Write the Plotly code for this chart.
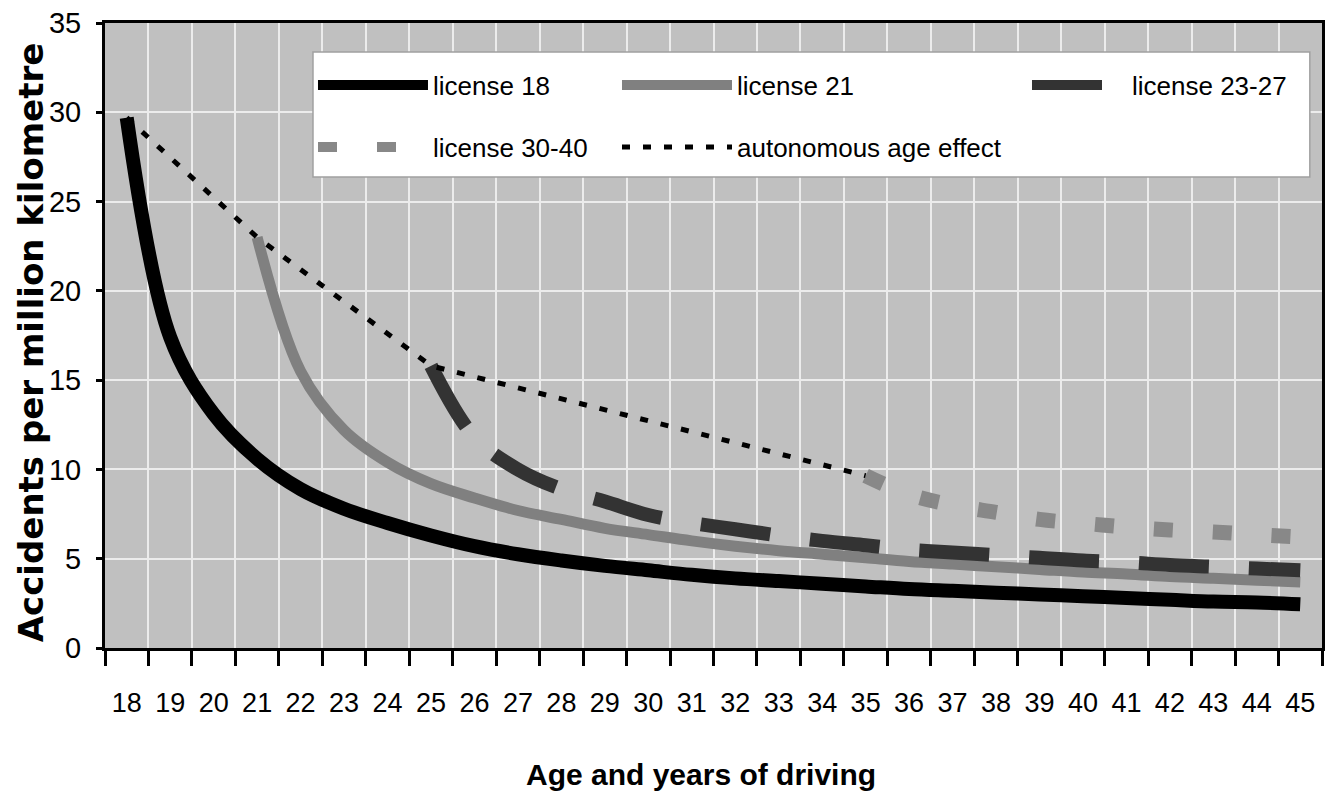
import plotly.graph_objects as go

# ---------------- data ----------------
ages = ["18", "19", "20", "21", "22", "23", "24", "25", "26", "27", "28", "29", "30", "31",
        "32", "33", "34", "35", "36", "37", "38", "39", "40", "41", "42", "43", "44", "45"]

license_18 = [29.7, 17.4, 13.1, 10.6, 8.9, 7.8, 7.0, 6.3, 5.7, 5.25, 4.9, 4.6, 4.35, 4.1,
              3.9, 3.75, 3.6, 3.45, 3.3, 3.2, 3.1, 3.0, 2.9, 2.8, 2.7, 2.6, 2.55, 2.45]

license_21_ages = ages[3:]
license_21 = [23.0, 15.5, 12.2, 10.4, 9.2, 8.4, 7.7, 7.2, 6.7, 6.35, 6.0, 5.7, 5.45, 5.25,
              5.05, 4.85, 4.7, 4.55, 4.4, 4.25, 4.15, 4.0, 3.9, 3.8, 3.7]

license_23_27_ages = ages[7:]
license_23_27 = [15.8, 11.8, 10.0, 8.9, 8.2, 7.45, 7.0, 6.65, 6.3, 6.0, 5.75, 5.5, 5.35,
                 5.2, 5.05, 4.9, 4.8, 4.65, 4.55, 4.45, 4.35]

license_30_40_ages = ages[17:]
license_30_40 = [9.65, 8.6, 8.0, 7.6, 7.2, 6.98, 6.78, 6.61, 6.5, 6.35, 6.22]

autonomous_ages = ["18", "21", "25", "35"]
autonomous = [29.7, 23.0, 15.8, 9.65]

y_ticks = [0, 5, 10, 15, 20, 25, 30, 35]

# ---------------- styling ----------------
SANS = "Liberation Sans, Arial, sans-serif"
GRID = "#ececec"

fig = go.Figure()
fig.add_trace(go.Scatter(x=ages, y=license_18, mode="lines", name="license 18",
                         line=dict(color="black", width=14, shape="spline"),
                         legend="legend"))
fig.add_trace(go.Scatter(x=license_21_ages, y=license_21, mode="lines", name="license 21",
                         line=dict(color="#808080", width=11, shape="spline"),
                         legend="legend2"))
fig.add_trace(go.Scatter(x=license_23_27_ages, y=license_23_27, mode="lines", name="license 23-27",
                         line=dict(color="#333333", width=14, shape="spline", dash="70px,40px"),
                         legend="legend3"))
fig.add_trace(go.Scatter(x=license_30_40_ages, y=license_30_40, mode="lines", name="license 30-40",
                         line=dict(color="#888888", width=15, shape="spline", dash="19px,40px"),
                         legend="legend4"))
fig.add_trace(go.Scatter(x=autonomous_ages, y=autonomous, mode="lines", name="autonomous age effect",
                         line=dict(color="black", width=5, dash="8px,13px"),
                         legend="legend5"))

leg_font = dict(family=SANS, size=26, color="black")


def leg(x, y, w):
    return dict(x=x, y=y, xanchor="left", yanchor="middle", bgcolor="rgba(0,0,0,0)",
                borderwidth=0, font=leg_font, itemwidth=w, xref="paper", yref="paper")


fig.update_layout(
    width=1326, height=791,
    margin=dict(l=97, r=12, t=15, b=151, autoexpand=False),
    paper_bgcolor="white",
    plot_bgcolor="#c0c0c0",
    showlegend=True,
    legend=leg(0.1709, 0.9008, 110),
    legend2=leg(0.4207, 0.9008, 110),
    legend3=leg(0.7576, 0.9008, 95),
    legend4=leg(0.1709, 0.8016, 110),
    legend5=leg(0.4207, 0.8016, 110),
    xaxis=dict(type="category", categoryorder="array", categoryarray=ages,
               range=[-0.5, len(ages) - 0.5],
               tickson="boundaries", ticks="outside", ticklen=15, tickwidth=2.5,
               tickcolor="black", showline=True, linecolor="black", linewidth=3,
               mirror=True, showgrid=True, gridcolor=GRID, gridwidth=2,
               tickfont=dict(family=SANS, size=27, color="black"), tickangle=0,
               ticklabelstandoff=29, zeroline=False, automargin=False,
               ticklabeloverflow="allow"),
    yaxis=dict(range=[0, 35], tickvals=y_ticks, ticktext=[str(v) for v in y_ticks],
               ticks="outside", ticklen=6, tickwidth=2.5, tickcolor="black",
               showline=True, linecolor="black", linewidth=3, mirror=True,
               showgrid=True, gridcolor=GRID, gridwidth=2, zeroline=False,
               tickfont=dict(family=SANS, size=29, color="black"),
               ticklabelstandoff=9, automargin=False, ticklabeloverflow="allow"),
    shapes=[dict(type="rect", xref="paper", yref="paper", x0=0.1709, x1=0.990,
                 y0=0.7536, y1=0.9536, fillcolor="white",
                 line=dict(color="#a0a0a0", width=1.5), layer="above")],
    annotations=[
        dict(text="<b>Accidents per million kilometre</b>", textangle=-90,
             xref="paper", yref="paper", x=-0.0610, y=0.4888, showarrow=False,
             xanchor="center", yanchor="middle",
             font=dict(family="DejaVu Sans", size=34, color="black")),
        dict(text="<b>Age and years of driving</b>",
             xref="paper", yref="paper", x=0.4896, y=-0.203, showarrow=False,
             xanchor="center", yanchor="middle",
             font=dict(family=SANS, size=30, color="black")),
    ],
)

fig.write_html("out.html")
